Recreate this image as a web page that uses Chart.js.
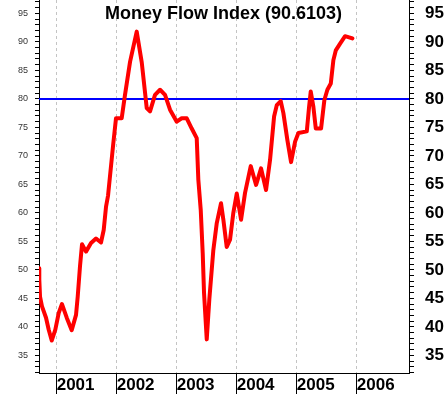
<!DOCTYPE html>
<html>
<head>
<meta charset="utf-8">
<script src="https://cdn.jsdelivr.net/npm/chart.js@4.4.1/dist/chart.umd.min.js"></script>
<style>
html,body{margin:0;padding:0;background:#fff;}
#wrap{width:447px;height:394px;position:relative;background:#fff;}
canvas{display:block;}
</style>
</head>
<body>
<div id="wrap"><canvas id="c" width="447" height="394"></canvas></div>
<script>
const titleText = 'Money Flow Index (90.6103)';

// Time (decimal years)
const dates = [
  2000.705, 2000.710, 2000.722, 2000.755, 2000.822, 2000.867, 2000.917, 2000.977,
  2001.033, 2001.088, 2001.167, 2001.250, 2001.322, 2001.350, 2001.388, 2001.422,
  2001.488, 2001.572, 2001.655, 2001.738, 2001.783, 2001.822, 2001.855, 2001.943,
  2001.988, 2002.083, 2002.138, 2002.222, 2002.333, 2002.417, 2002.500, 2002.555,
  2002.638, 2002.722, 2002.805, 2002.888, 2003.000, 2003.083, 2003.167, 2003.250,
  2003.333, 2003.360, 2003.400, 2003.433, 2003.455, 2003.500, 2003.543, 2003.610,
  2003.667, 2003.738, 2003.777, 2003.833, 2003.888, 2003.943, 2004.000, 2004.072,
  2004.138, 2004.233, 2004.322, 2004.405, 2004.488, 2004.555, 2004.622, 2004.667,
  2004.733, 2004.777, 2004.843, 2004.905, 2004.972, 2005.027, 2005.167, 2005.205,
  2005.233, 2005.277, 2005.317, 2005.405, 2005.460, 2005.510, 2005.567, 2005.610,
  2005.650, 2005.722, 2005.805, 2005.872, 2005.927
];

// Money Flow Index values
const mfi = [
  50.3, 48.3, 45.3, 43.6, 41.6, 39.5, 37.6, 39.5,
  42.4, 44.0, 41.6, 39.4, 42.1, 45.3, 50.6, 54.5,
  53.2, 54.7, 55.5, 54.8, 57.0, 61.1, 63.0, 72.2,
  76.6, 76.6, 80.7, 86.5, 91.8, 86.4, 78.4, 77.8,
  80.7, 81.6, 80.7, 78.1, 76.0, 76.6, 76.6, 74.8,
  73.1, 65.8, 60.5, 52.9, 45.9, 37.8, 44.8, 53.5,
  58.2, 61.7, 58.8, 54.0, 55.3, 60.0, 63.4, 58.8,
  63.5, 68.2, 64.9, 67.8, 64.0, 69.3, 76.9, 78.9,
  79.6, 77.5, 72.8, 68.9, 72.5, 74.0, 74.3, 78.6,
  81.3, 78.6, 74.8, 74.8, 79.8, 81.6, 82.7, 86.8,
  88.5, 89.7, 91.0, 90.8, 90.6
];

const referenceLevel = 80;
const yearTicks = [2001, 2002, 2003, 2004, 2005, 2006];
const valueLabels = [35, 40, 45, 50, 55, 60, 65, 70, 75, 80, 85, 90, 95];
const minorTicks = [];
for (let v = 32; v <= 97; v++) minorTicks.push(v);
const xRange = [2000.705, 2006.87];
const yRange = [31.9, 97.35];

const FONT = '"Liberation Sans", Arial, Helvetica, sans-serif';

const titlePlugin = {
  id: 'innerTitle',
  afterDraw(chart) {
    const ctx = chart.ctx;
    ctx.save();
    ctx.font = 'bold 18px ' + FONT;
    ctx.fillStyle = '#000';
    ctx.textAlign = 'center';
    ctx.textBaseline = 'alphabetic';
    ctx.fillText(titleText, chart.width / 2, 19);
    ctx.restore();
  }
};

const isMajor = v => valueLabels.includes(v);
const noPad = s => { s.paddingTop = 0; s.paddingBottom = 0; s.paddingLeft = 0; s.paddingRight = 0; };

new Chart(document.getElementById('c'), {
  type: 'line',
  data: {
    datasets: [
      {
        label: 'MFI',
        data: dates.map((d, i) => ({ x: d, y: mfi[i] })),
        borderColor: '#ff0000',
        borderWidth: 4,
        pointRadius: 0,
        tension: 0,
        borderJoinStyle: 'round',
        borderCapStyle: 'round',
        fill: false
      },
      {
        label: 'Level',
        data: [{ x: xRange[0], y: referenceLevel }, { x: xRange[1], y: referenceLevel }],
        borderColor: '#0000ff',
        borderWidth: 2,
        pointRadius: 0,
        fill: false
      }
    ]
  },
  options: {
    responsive: false,
    animation: false,
    devicePixelRatio: 1,
    layout: { padding: 0 },
    plugins: {
      legend: { display: false },
      tooltip: { enabled: false },
      title: { display: false }
    },
    scales: {
      x: {
        type: 'linear',
        position: 'bottom',
        min: xRange[0],
        max: xRange[1],
        afterBuildTicks: s => { s.ticks = yearTicks.map(v => ({ value: v })); },
        afterFit: s => { s.height = 21; noPad(s); },
        ticks: {
          autoSkip: false,
          maxRotation: 0,
          align: 'start',
          padding: -19,
          color: '#000',
          font: { family: FONT, size: 17, weight: 'bold' },
          callback: v => String(v)
        },
        grid: {
          display: true,
          drawOnChartArea: true,
          drawTicks: true,
          color: '#c4c4c4',
          lineWidth: 1,
          tickLength: 21,
          tickColor: '#000',
          tickWidth: 1,
          tickBorderDash: []
        },
        border: { display: true, color: '#000', width: 1, dash: [3, 3] }
      },
      y: {
        type: 'linear',
        position: 'left',
        min: yRange[0],
        max: yRange[1],
        afterBuildTicks: s => { s.ticks = minorTicks.map(v => ({ value: v })); },
        afterFit: s => { s.width = 39; noPad(s); },
        ticks: {
          autoSkip: false,
          padding: 7,
          color: '#333',
          font: { family: FONT, size: 9 },
          callback: v => isMajor(v) ? String(v) : ''
        },
        grid: {
          drawOnChartArea: false,
          drawTicks: true,
          tickLength: 4,
          tickColor: '#000',
          tickWidth: 1
        },
        border: { display: true, color: '#000', width: 1 }
      },
      yRight: {
        type: 'linear',
        position: 'right',
        min: yRange[0],
        max: yRange[1],
        afterBuildTicks: s => { s.ticks = minorTicks.map(v => ({ value: v })); },
        afterFit: s => { s.width = 38; noPad(s); },
        ticks: {
          autoSkip: false,
          padding: 11,
          color: '#000',
          font: { family: FONT, size: 17, weight: 'bold' },
          callback: v => isMajor(v) ? String(v) : ''
        },
        grid: {
          drawOnChartArea: false,
          drawTicks: true,
          tickLength: 5,
          tickColor: '#000',
          tickWidth: 1
        },
        border: { display: true, color: '#000', width: 1 }
      }
    }
  },
  plugins: [titlePlugin]
});
</script>
</body>
</html>
